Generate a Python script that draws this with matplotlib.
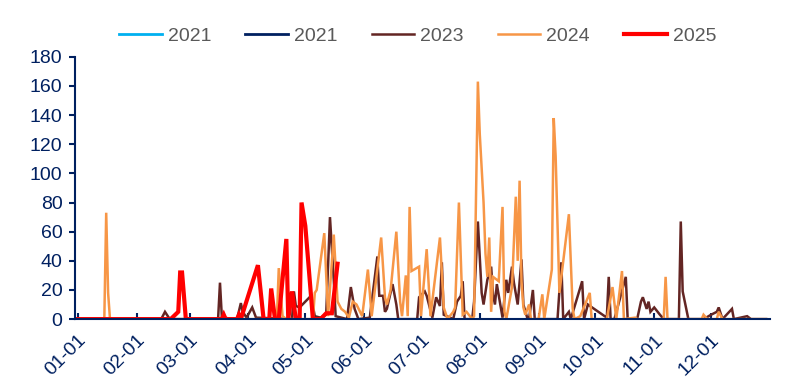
import matplotlib
matplotlib.use("Agg")
import matplotlib.pyplot as plt

# ---------------- data (day of year, 0 = Jan 1) ----------------
month_days = [0, 31, 59, 90, 120, 151, 181, 212, 243, 273, 304, 334]
month_labels = ["01-01", "02-01", "03-01", "04-01", "05-01", "06-01",
                "07-01", "08-01", "09-01", "10-01", "11-01", "12-01"]

days_2021a = [0, 363]
vals_2021a = [0, 0]

days_2021b = [0, 363]
vals_2021b = [0, 0]

days_2023 = [0, 44, 46, 48, 49, 74, 75, 76, 84, 86, 87, 89, 92, 94, 113, 114, 115, 117,
             123, 125, 128, 131, 133, 135, 136, 142, 144, 146, 148, 154, 158, 159,
             161, 162, 163, 166, 168, 169, 179, 180, 183, 184, 187, 189, 191, 192,
             193, 198, 200, 202, 203, 204, 208, 209, 211, 213, 214, 216, 218, 219,
             220, 221, 224, 226, 227, 229, 230, 232, 234, 235, 237, 238, 240, 241,
             253, 255, 256, 259, 260, 266, 267, 269, 279, 280, 281, 283, 289, 290,
             295, 297, 298, 300, 301, 302, 304, 307, 309, 317, 318, 319, 322, 330,
             334, 337, 338, 340, 345, 346, 353, 355, 363]
vals_2023 = [0, 0, 5, 1, 0, 0, 25, 1, 0, 11, 5, 1, 8, 1, 0, 19, 9, 8,
             16, 2, 1, 3, 70, 27, 2, 0, 22, 7, 0, 1, 43, 16,
             16, 5, 7, 24, 10, 0, 0, 15, 19, 16, 1, 15, 9, 39,
             3, 0, 12, 16, 26, 0, 0, 12, 67, 18, 10, 27, 36, 17,
             10, 24, 1, 27, 18, 36, 25, 10, 41, 10, 1, 0, 20, 0,
             0, 39, 0, 5, 0, 26, 0, 10, 1, 29, 0, 0, 29, 0,
             0, 12, 15, 7, 12, 5, 8, 3, 0, 0, 67, 19, 0, 0,
             3, 5, 8, 0, 7, 0, 2, 0, 0]

days_2024 = [0, 14, 15, 16, 17, 105, 106, 108, 110, 124, 125, 126, 130, 132, 135,
             137, 139, 141, 143, 145, 147, 150, 153, 155, 160, 162, 163, 165, 168,
             170, 171, 173, 174, 175, 176, 180, 181, 184, 186, 191, 193, 195, 198,
             199, 201, 203, 205, 208, 209, 211, 212, 214, 215, 216, 217, 218, 219,
             221, 222, 224, 225, 226, 229, 231, 232, 233, 234, 235, 236, 238, 239,
             243, 245, 246, 250, 251, 252, 254, 259, 261, 262, 265, 270, 271, 279,
             282, 284, 287, 288, 294, 295, 309, 310, 311, 329, 330, 332, 337, 338,
             340, 363]
vals_2024 = [0, 0, 73, 18, 0, 0, 35, 2, 0, 0, 18, 20, 59, 2, 58,
             12, 7, 5, 1, 12, 10, 2, 34, 2, 56, 15, 10, 20, 60,
             12, 2, 30, 2, 77, 33, 36, 2, 48, 2, 56, 8, 0, 5,
             8, 80, 3, 5, 0, 2, 163, 127, 80, 45, 29, 56, 5, 29,
             27, 26, 77, 5, 0, 22, 84, 40, 95, 26, 8, 3, 10, 0,
             0, 17, 0, 34, 138, 112, 18, 72, 7, 0, 2, 18, 0, 0,
             22, 0, 33, 0, 1, 0, 0, 29, 0, 0, 3, 0, 0, 5,
             0, 0]

days_2025 = [0, 49, 53, 54, 55, 57, 76, 77, 78, 84, 85, 86, 95, 98, 101, 102,
             104, 106, 110, 111, 113, 115, 117, 118, 120, 124, 128, 131, 134, 137]
vals_2025 = [0, 0, 5, 32, 32, 0, 0, 3, 0, 0, 3, 0, 37, 0, 0, 21,
             0, 0, 55, 0, 19, 0, 0, 80, 64, 0, 0, 4, 4, 38]

series = [
    ("2021", days_2021a, vals_2021a, "#00B0F0", 2.0),
    ("2021", days_2021b, vals_2021b, "#002060", 2.0),
    ("2023", days_2023, vals_2023, "#632523", 1.8),
    ("2024", days_2024, vals_2024, "#F79646", 1.8),
    ("2025", days_2025, vals_2025, "#FF0000", 3.0),
]

# ---------------- plot ----------------
plt.rcParams['font.family'] = ['Liberation Sans', 'DejaVu Sans']
navy = "#002060"

fig = plt.figure(figsize=(7.97, 3.84), dpi=100)
ax = fig.add_axes([0.094, 0.169, 0.872, 0.683])

for name, d, v, c, lw in series:
    ax.plot(d, v, color=c, lw=lw, label=name, solid_joinstyle='miter')

ax.set_xlim(-1.5, 365)
ax.set_ylim(0, 180)
ax.set_yticks(range(0, 181, 20))
ax.set_xticks(month_days)
ax.set_xticklabels(month_labels, rotation=45, ha='right', rotation_mode='anchor')

for s in ['top', 'right']:
    ax.spines[s].set_visible(False)
for s in ['left', 'bottom']:
    ax.spines[s].set_color(navy)
    ax.spines[s].set_linewidth(1.5)

ax.tick_params(axis='y', colors=navy, labelsize=14, length=4, width=1.5, direction='out', pad=5)
ax.tick_params(axis='x', colors=navy, labelsize=14, length=4, width=1.5, direction='in', pad=9)

leg = fig.legend(loc='center', bbox_to_anchor=(0.524, 0.905), ncol=5, frameon=False,
                 fontsize=14, handlelength=2.2, handletextpad=0.3, columnspacing=1.75)
for t in leg.get_texts():
    t.set_color("#595959")

fig.savefig("out.png", dpi=100)
